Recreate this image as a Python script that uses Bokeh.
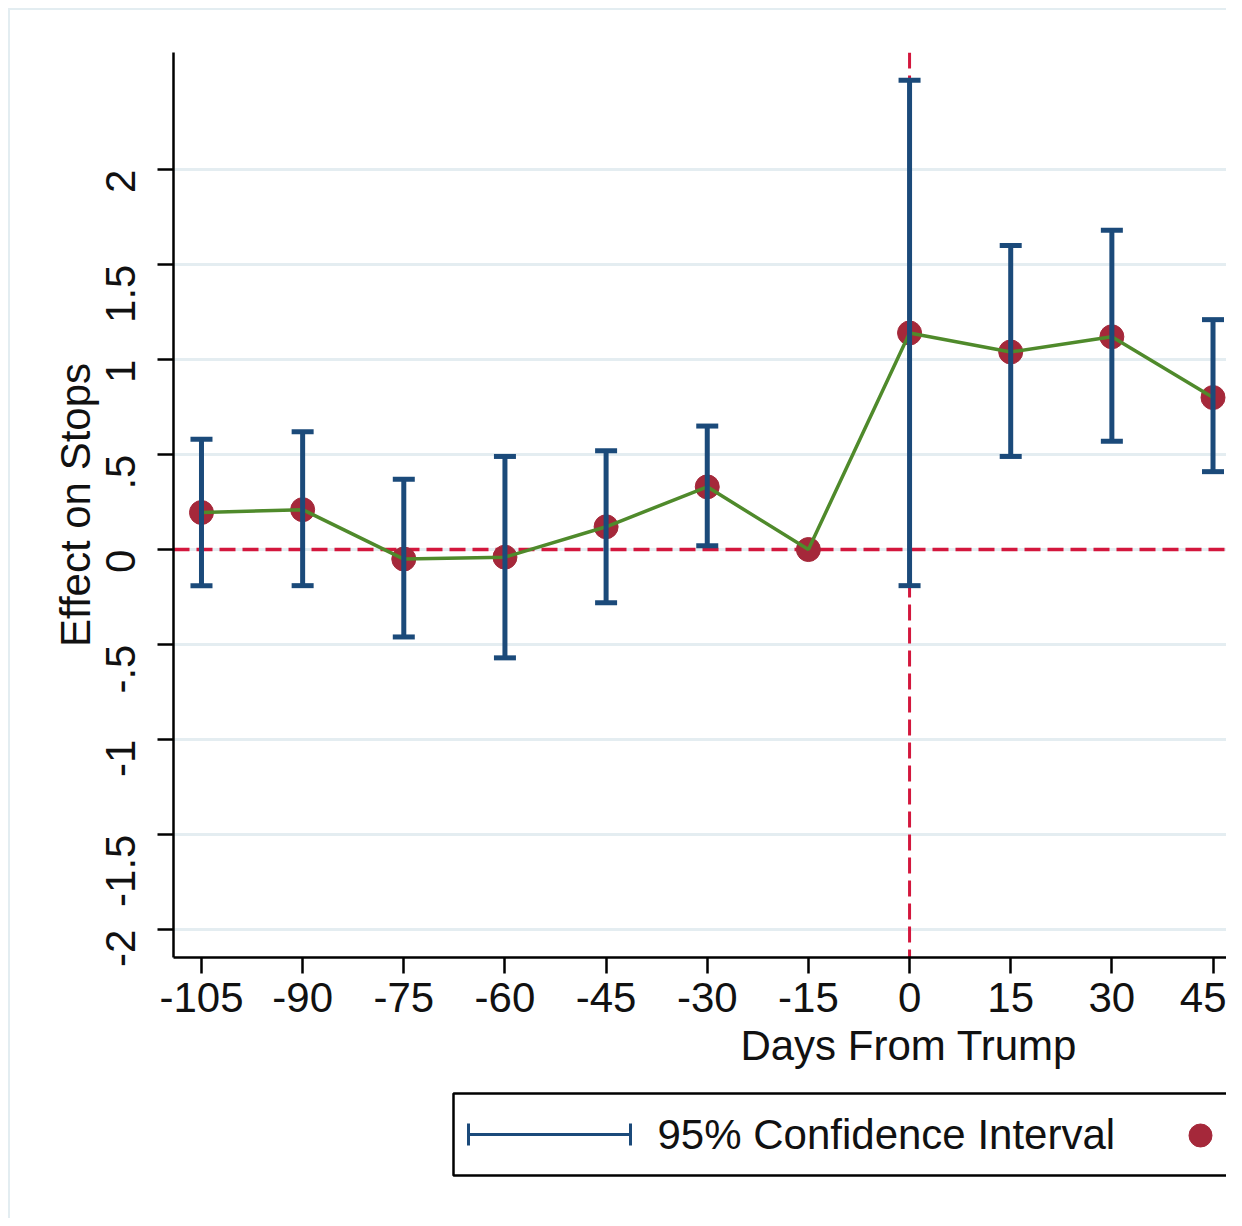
import math
from bokeh.plotting import figure
from bokeh.models import (Range1d, FixedTicker, ColumnDataSource, Whisker, TeeHead, Span, Title)
from bokeh.layouts import column
from bokeh.core.properties import value
from bokeh.embed import file_html
from bokeh.resources import INLINE

# ---------------- data ----------------
DAYS = [-105, -90, -75, -60, -45, -30, -15, 0, 15, 30, 45]
EFFECT = [0.195, 0.21, -0.05, -0.04, 0.12, 0.33, 0.0, 1.14, 1.04, 1.12, 0.80]
CI_LOW = [-0.19, -0.19, -0.46, -0.57, -0.28, 0.02, None, -0.19, 0.49, 0.57, 0.41]
CI_HIGH = [0.58, 0.62, 0.37, 0.49, 0.52, 0.65, None, 2.47, 1.60, 1.68, 1.21]

X_TICKS = [-105, -90, -75, -60, -45, -30, -15, 0, 15, 30, 45]
X_TICK_LABELS = ["-105", "-90", "-75", "-60", "-45", "-30", "-15", "0", "15", "30", "45"]
Y_TICKS = [-2, -1.5, -1, -0.5, 0, 0.5, 1, 1.5, 2]
Y_TICK_LABELS = ["-2", "-1.5", "-1", "-.5", "0", ".5", "1", "1.5", "2"]

X_LABEL = "Days From Trump"
Y_LABEL = "Effect on Stops"
LEGEND_CI = "95% Confidence Interval"

# ---------------- styles ----------------
NAVY = "#1b4a7a"
RED_LINE = "#d3173d"
DOT = "#a5283a"
GREEN = "#4f8a2b"
GRID = "#e4edf1"
FONT = "Liberation Sans"
FS = "42px"

X_START, X_END = -109.15, 47.0
Y_START, Y_END = -2.147, 2.616
FRAME_LEFT, FRAME_RIGHT = 173, 1226
BORDER_LEFT = 163

p = figure(width=1216, height=1070,
           x_range=Range1d(X_START, X_END), y_range=Range1d(Y_START, Y_END),
           output_backend="svg", toolbar_location=None,
           min_border_left=BORDER_LEFT, min_border_right=0,
           min_border_top=42, min_border_bottom=123)
p.outline_line_color = None
p.background_fill_color = "white"
p.border_fill_color = "white"

p.xgrid.visible = False
p.ygrid.ticker = FixedTicker(ticks=Y_TICKS)
p.ygrid.grid_line_color = GRID
p.ygrid.grid_line_width = 3

for ax in (p.xaxis[0], p.yaxis[0]):
    ax.axis_line_width = 2.5
    ax.axis_line_color = "black"
    ax.major_tick_out = 16
    ax.major_tick_in = 0
    ax.minor_tick_out = 0
    ax.minor_tick_in = 0
    ax.major_tick_line_width = 2.5
    ax.major_tick_line_color = "black"
    ax.major_label_text_font = FONT
    ax.major_label_text_font_size = FS
    ax.major_label_text_color = "#111111"

p.xaxis.ticker = FixedTicker(ticks=X_TICKS)
p.xaxis.major_label_overrides = {t: l for t, l in zip(X_TICKS, X_TICK_LABELS)}
p.xaxis.major_label_standoff = 9

p.yaxis.ticker = FixedTicker(ticks=Y_TICKS)
p.yaxis.major_label_overrides = {t: l for t, l in zip(Y_TICKS, Y_TICK_LABELS)}
p.yaxis.major_label_orientation = math.pi / 2
p.yaxis.major_label_standoff = 37
p.yaxis.axis_label = Y_LABEL
p.yaxis.axis_label_text_font = FONT
p.yaxis.axis_label_text_font_size = FS
p.yaxis.axis_label_text_font_style = "normal"
p.yaxis.axis_label_text_color = "#111111"
p.yaxis.axis_label_standoff = -10

# x-axis title, centred under x = 0 (as in the original, wider plot)
x0_px = FRAME_LEFT + (0 - X_START) / (X_END - X_START) * (FRAME_RIGHT - FRAME_LEFT)
title_w = 8.056 * 42  # approx. text width of the title in Liberation Sans 42px
xt = Title(text=X_LABEL, align="left", offset=x0_px - FRAME_LEFT - title_w / 2,
           text_font=FONT, text_font_size=FS, text_font_style="normal",
           text_color="#111111", standoff=11)
p.add_layout(xt, "below")

# reference lines
hline = Span(location=0, dimension="width", line_color=RED_LINE, line_width=3.5,
             line_dash="16 7", level="underlay")
vline = Span(location=0, dimension="height", line_color=RED_LINE, line_width=3,
             line_dash="16 7", level="underlay")
p.add_layout(hline)
p.add_layout(vline)

# confidence intervals
ci_idx = [i for i in range(len(DAYS)) if CI_LOW[i] is not None]
ci_src = ColumnDataSource(dict(x=[DAYS[i] for i in ci_idx],
                               lo=[CI_LOW[i] for i in ci_idx],
                               hi=[CI_HIGH[i] for i in ci_idx]))
wh = Whisker(base="x", lower="lo", upper="hi", source=ci_src,
             line_color=NAVY, line_width=5, level="glyph",
             upper_head=TeeHead(size=22, line_color=NAVY, line_width=5),
             lower_head=TeeHead(size=22, line_color=NAVY, line_width=5))
p.add_layout(wh)

src = ColumnDataSource(dict(x=DAYS, y=EFFECT))
p.scatter("x", "y", source=src, size=24, fill_color=DOT, line_color=DOT)
p.line("x", "y", source=src, line_color=GREEN, line_width=3.5)

# ---------------- lower panel: legend (page-pixel coordinates) ----------------
q = figure(width=1216, height=138,
           x_range=Range1d(FRAME_LEFT, FRAME_RIGHT), y_range=Range1d(1218, 1080),
           output_backend="svg", toolbar_location=None,
           min_border_left=BORDER_LEFT, min_border_right=0, min_border_top=0, min_border_bottom=0)
q.axis.visible = False
q.grid.visible = False
q.outline_line_color = None
q.background_fill_color = "white"
q.border_fill_color = "white"

TXT_SHIFT = 13
q.quad(left=[453], right=[1400], top=[1093], bottom=[1175], fill_color="white",
       line_color="black", line_width=2.5)
q.segment(x0=[468], y0=[1134], x1=[630], y1=[1134], line_color=NAVY, line_width=3)
q.segment(x0=[468, 630], y0=[1123, 1123], x1=[468, 630], y1=[1145, 1145],
          line_color=NAVY, line_width=3)
q.text(x=[657], y=[1147 - TXT_SHIFT], text=[LEGEND_CI], text_font=value(FONT), text_font_size=FS,
       text_align="left", text_baseline="alphabetic", text_color="#111111")
q.scatter(x=[1200], y=[1135], size=23, fill_color=DOT, line_color=DOT)

layout = column(p, q, spacing=0,
                styles={"margin-left": "8px", "margin-top": "8px",
                        "border-left": "2px solid #e3edf1", "border-top": "2px solid #e3edf1"})

open("out.html", "w").write(file_html(layout, INLINE))
